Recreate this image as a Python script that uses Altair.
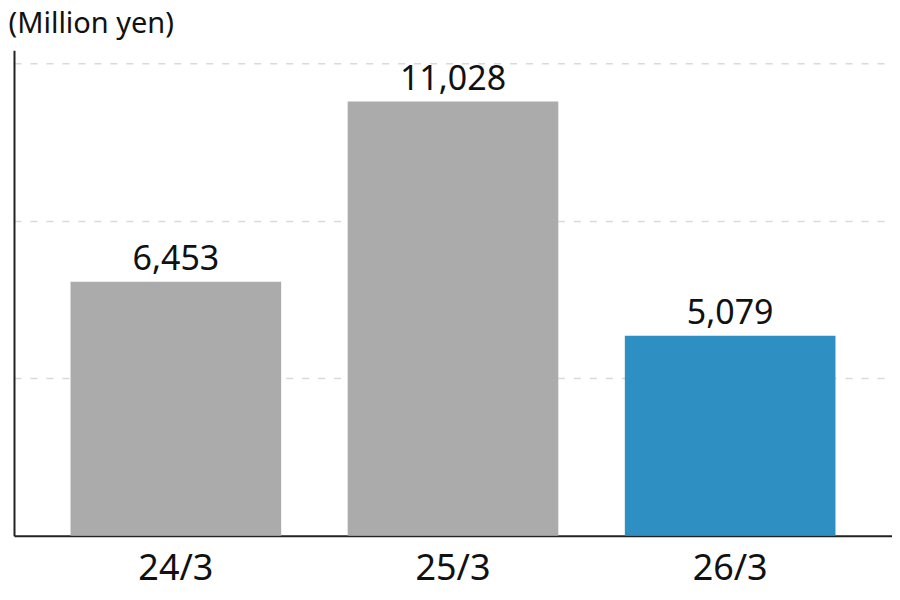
import altair as alt
import pandas as pd

categories = ["24/3", "25/3", "26/3"]
values = [6453, 11028, 5079]
bar_colors = ["#ababab", "#ababab", "#2e8fc2"]
value_labels = ["6,453", "11,028", "5,079"]
grid_values = [4000, 8000, 12000]

df = pd.DataFrame({
    "period": categories,
    "value": values,
    "color": bar_colors,
    "label": value_labels,
})

FONT = "Noto Sans"

x = alt.X(
    "period:N",
    sort=categories,
    scale=alt.Scale(paddingInner=0.24, paddingOuter=0.204),
    axis=alt.Axis(
        title=None,
        labelAngle=0,
        labelFontSize=36,
        labelFont=FONT,
        labelColor="#111111",
        labelPadding=16,
        ticks=False,
        domainColor="#222222",
        domainWidth=2,
        grid=False,
    ),
)

y = alt.Y(
    "value:Q",
    scale=alt.Scale(domain=[0, 12330], nice=False, zero=True),
    axis=alt.Axis(
        title="(Million yen)",
        titleAngle=0,
        titleX=-6,
        titleY=-18,
        titleAlign="left",
        titleBaseline="alphabetic",
        titleFont=FONT,
        titleFontSize=29,
        titleFontWeight="normal",
        titleColor="#111111",
        labels=False,
        ticks=False,
        values=grid_values,
        domainColor="#222222",
        domainWidth=2,
        grid=True,
        gridColor="#d9d9d9",
        gridDash=[7, 9],
        gridWidth=1.5,
    ),
)

bars = alt.Chart(df).mark_bar().encode(
    x=x,
    y=y,
    color=alt.Color("color:N", scale=None),
)

texts = alt.Chart(df).mark_text(
    baseline="alphabetic",
    dy=-12,
    fontSize=34,
    font=FONT,
    color="#111111",
).encode(
    x=alt.X("period:N", sort=categories),
    y=alt.Y("value:Q"),
    text="label:N",
)

chart = alt.layer(bars, texts).properties(
    width=879,
    height=486,
    padding={"left": 6, "top": 42, "right": 0, "bottom": 58},
    autosize=alt.AutoSizeParams(type="none"),
).configure_view(stroke=None)

chart.save("out.html", embed_options={"renderer": "svg", "actions": False})
